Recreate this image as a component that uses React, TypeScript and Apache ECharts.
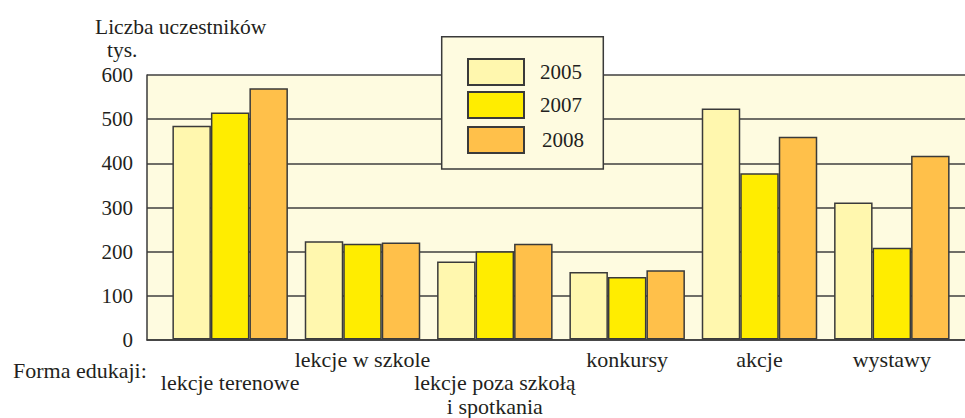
import React, { useEffect, useRef } from "react";
import * as echarts from "echarts";

const categories = [
  "lekcje terenowe",
  "lekcje w szkole",
  "lekcje poza szkołą\ni spotkania",
  "konkursy",
  "akcje",
  "wystawy",
];
const lowLabels = [true, false, true, false, false, false];
const years = ["2005", "2007", "2008"];
const values2005 = [485, 223, 177, 153, 524, 311];
const values2007 = [515, 217, 200, 142, 377, 208];
const values2008 = [570, 220, 217, 157, 460, 417];
const yTicks = [0, 100, 200, 300, 400, 500, 600];

const FONT = '"Liberation Serif", "DejaVu Serif", serif';
const TXT = "#231f20";
const BG = "#FEFBE0";
const EDGE = "#3a3a3a";
const colors = ["#FFF7AE", "#FFED00", "#FFC04A"];

export default function App() {
  const ref = useRef<HTMLDivElement>(null);
  useEffect(() => {
    if (!ref.current) return;
    const chart = echarts.init(ref.current, null, { renderer: "svg" });
    const seriesData = [values2005, values2007, values2008];
    const legendTops = [58, 91, 126];
    chart.setOption({
      animation: false,
      grid: [
        {
          left: 147,
          top: 75,
          width: 840,
          height: 265,
          show: true,
          backgroundColor: BG,
          borderWidth: 0,
        },
        { left: 164, top: 75, width: 794, height: 265 },
      ],
      xAxis: [
        {
          type: "category",
          gridIndex: 0,
          data: [""],
          axisLine: { show: true, lineStyle: { color: EDGE, width: 1.5 } },
          axisTick: { show: false },
          axisLabel: { show: false },
          splitLine: { show: false },
        },
        {
          type: "category",
          gridIndex: 1,
          data: categories,
          axisLine: { show: false },
          axisTick: { show: false },
          axisLabel: {
            interval: 0,
            margin: 8,
            fontSize: 22,
            lineHeight: 23.5,
            fontFamily: FONT,
            color: TXT,
            formatter: (v: string, i: number) => (lowLabels[i] ? "\n" + v : v),
          },
        },
      ],
      yAxis: [
        {
          type: "value",
          gridIndex: 0,
          min: yTicks[0],
          max: yTicks[yTicks.length - 1],
          interval: 100,
          axisLine: { show: true, lineStyle: { color: EDGE, width: 1.5 } },
          axisTick: { show: false },
          axisLabel: { margin: 14, fontSize: 21, fontFamily: FONT, color: TXT },
          splitLine: { show: true, lineStyle: { color: "#3f3f3f", width: 1.5 } },
        },
        {
          type: "value",
          gridIndex: 1,
          min: yTicks[0],
          max: yTicks[yTicks.length - 1],
          interval: 100,
          show: false,
        },
      ],
      legend: years.map((y, i) => ({
        data: [y],
        left: 467,
        top: legendTops[i],
        padding: 0,
        icon: "rect",
        itemWidth: 56,
        itemHeight: 26,
        selectedMode: false,
        z: 20,
        textStyle: {
          fontSize: 21,
          fontFamily: FONT,
          color: TXT,
          padding: [0, 0, 0, i === 2 ? 13 : 11],
        },
      })),
      series: years.map((y, i) => ({
        name: y,
        type: "bar",
        xAxisIndex: 1,
        yAxisIndex: 1,
        data: seriesData[i],
        barWidth: 38.5,
        barGap: "0%",
        itemStyle: { color: colors[i], borderColor: EDGE, borderWidth: 1.5 },
      })),
      graphic: [
        {
          type: "rect",
          z: 10,
          shape: { x: 441.7, y: 36.7, width: 161.6, height: 132.3 },
          style: { fill: BG, stroke: EDGE, lineWidth: 1.5 },
        },
        {
          type: "text",
          x: 95,
          y: 27,
          style: {
            text: "Liczba uczestników",
            fill: TXT,
            font: `21.5px ${FONT}`,
            align: "left",
            verticalAlign: "middle",
          },
        },
        {
          type: "text",
          x: 107,
          y: 50,
          style: {
            text: "tys.",
            fill: TXT,
            font: `21.5px ${FONT}`,
            align: "left",
            verticalAlign: "middle",
          },
        },
        {
          type: "text",
          x: 13,
          y: 370,
          style: {
            text: "Forma edukaji:",
            fill: TXT,
            font: `22px ${FONT}`,
            align: "left",
            verticalAlign: "middle",
          },
        },
      ],
    });
    return () => chart.dispose();
  }, []);
  return (
    <div
      ref={ref}
      style={{ position: "fixed", left: 0, top: 0, width: 965, height: 418, background: "#fff" }}
    />
  );
}
